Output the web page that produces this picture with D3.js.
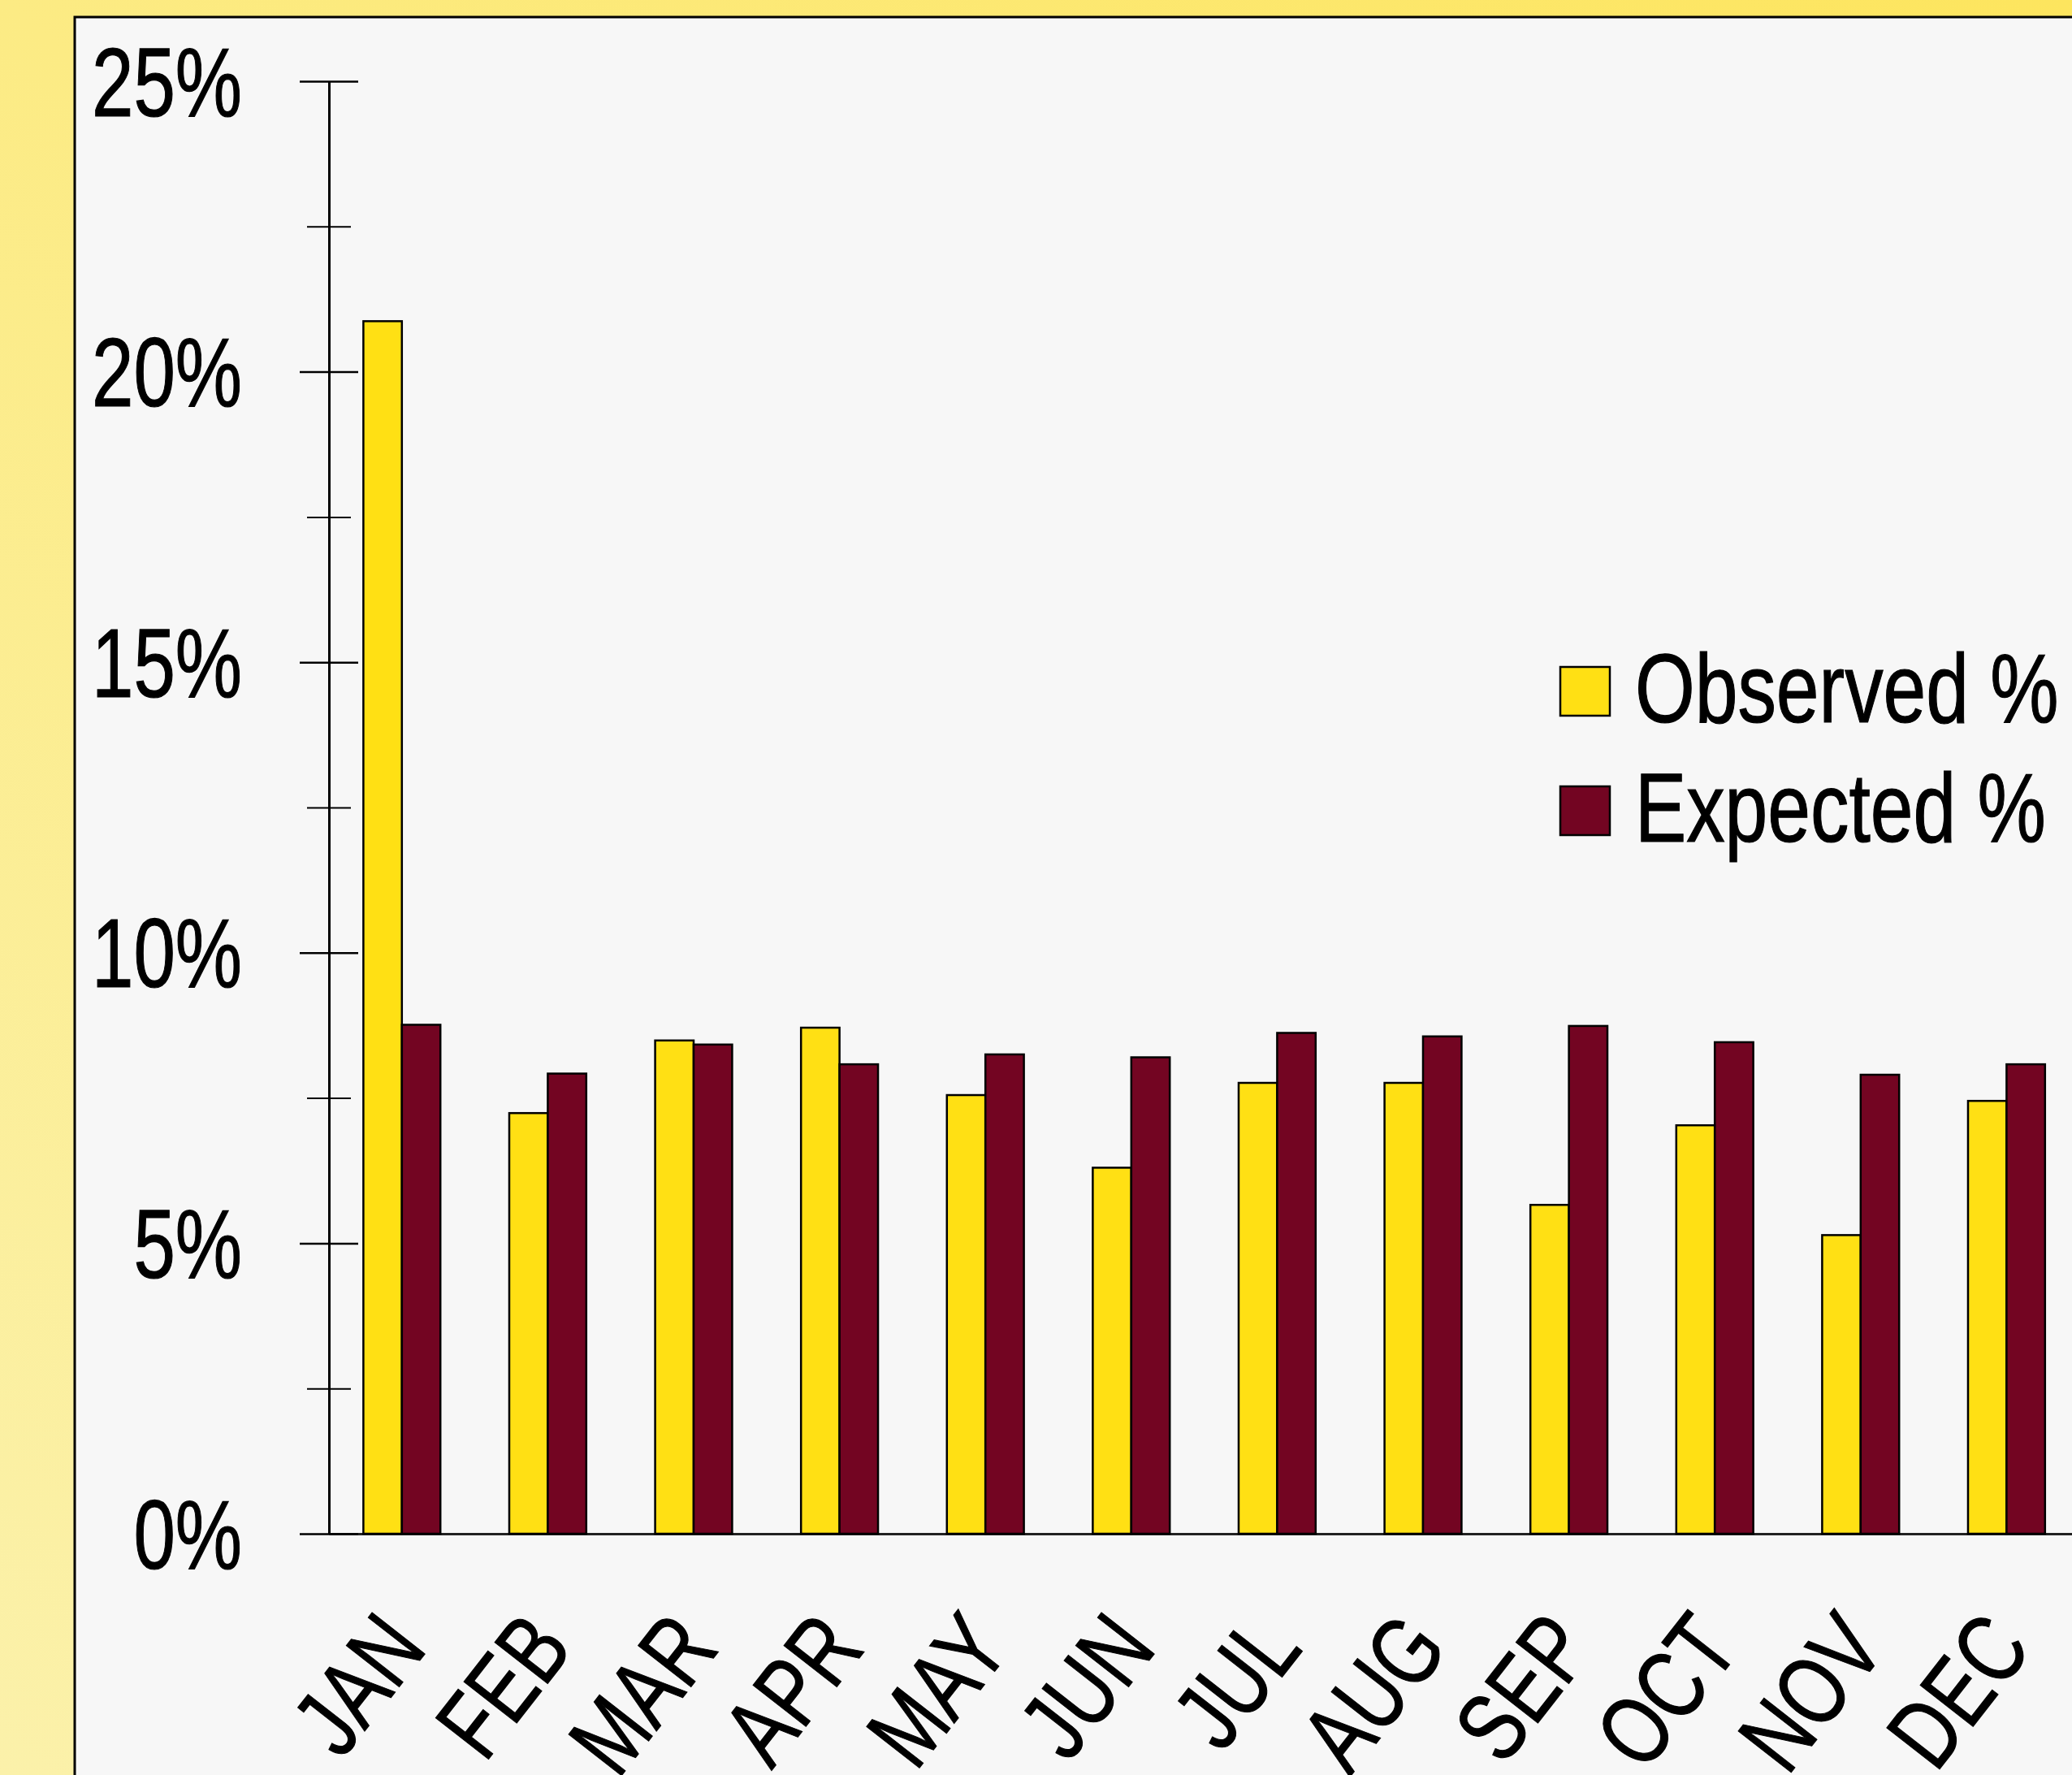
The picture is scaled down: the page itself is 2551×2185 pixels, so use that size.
<!DOCTYPE html>
<html>
<head>
<meta charset="utf-8">
<script src="https://cdn.jsdelivr.net/npm/d3@7"></script>
<style>
  html, body { margin: 0; padding: 0; overflow: hidden; background: #fbee9c; }
  svg { display: block; }
  text { font-family: "Liberation Sans", Arial, sans-serif; fill: #000; }
</style>
</head>
<body>
<svg id="chart" width="2551" height="2185"></svg>
<script>
// ---- data ----
const months = ["JAN", "FEB", "MAR", "APR", "MAY", "JUN", "JUL", "AUG", "SEP", "OCT", "NOV", "DEC"];
const seriesNames = ["Observed %", "Expected %"];
const observed = [20.87, 7.24, 8.49, 8.71, 7.55, 6.30, 7.76, 7.76, 5.66, 7.03, 5.14, 7.45];
const expected = [8.76, 7.92, 8.42, 8.08, 8.25, 8.20, 8.62, 8.56, 8.74, 8.46, 7.90, 8.08];
const majorTicks = [0, 5, 10, 15, 20, 25];
const minorTicks = [2.5, 7.5, 12.5, 17.5, 22.5];
const colors = ["#ffe014", "#730522"];

const W = 2551, H = 2185;
const svg = d3.select("#chart");

// background gradient
const defs = svg.append("defs");
const grad = defs.append("linearGradient").attr("id", "bg")
  .attr("x1", "0%").attr("y1", "100%").attr("x2", "100%").attr("y2", "0%");
grad.append("stop").attr("offset", "0%").attr("stop-color", "#fbf1aa");
grad.append("stop").attr("offset", "100%").attr("stop-color", "#fde55e");
svg.append("rect").attr("width", W).attr("height", H).attr("fill", "url(#bg)");

// panel
svg.append("rect").attr("x", 92).attr("y", 21).attr("width", W + 20).attr("height", H + 20)
  .attr("fill", "#f7f7f7").attr("stroke", "#000").attr("stroke-width", 3);

// scales
const x0 = d3.scaleBand().domain(months).range([405, 405 + 12 * 179.6])
  .paddingInner(0.472).paddingOuter(0.236);
const x1 = d3.scaleBand().domain(seriesNames).range([0, x0.bandwidth()]);
const y = d3.scaleLinear().domain([0, 25]).range([1888, 100]);
const color = d3.scaleOrdinal().domain(seriesNames).range(colors);

const FS = 120;

// x axis (baseline + labels)
const xAxis = svg.append("g").attr("transform", `translate(0,${y(0)})`)
  .call(d3.axisBottom(x0).tickSize(0).tickSizeOuter(0));
xAxis.select(".domain").attr("stroke", "#222").attr("stroke-width", 3);
xAxis.selectAll(".tick text")
  .attr("font-size", FS)
  .attr("font-family", '"Liberation Sans", Arial, sans-serif')
  .attr("fill", "#000")
  .attr("stroke", "#000").attr("stroke-width", 1.2)
  .attr("text-anchor", "end")
  .attr("x", 0).attr("y", 0).attr("dy", 0)
  .attr("transform", "translate(33,142) rotate(-52) scale(0.77,1)");

// minor ticks
const yMinor = svg.append("g").attr("transform", "translate(405,0)")
  .call(d3.axisLeft(y).tickValues(minorTicks).tickSize(27).tickSizeOuter(0).tickFormat(""));
yMinor.select(".domain").remove();
yMinor.selectAll(".tick line").attr("x1", 27).attr("x2", -27).attr("stroke", "#000").attr("stroke-width", 2);

// major ticks + labels
const yAxis = svg.append("g").attr("transform", "translate(405,0)")
  .call(d3.axisLeft(y).tickValues(majorTicks).tickSize(36).tickSizeOuter(0).tickFormat(d => d + "%"));
yAxis.select(".domain").attr("stroke", "#000").attr("stroke-width", 3);
yAxis.selectAll(".tick line").attr("x1", 36).attr("x2", -36).attr("stroke", "#000").attr("stroke-width", 2.5);
yAxis.selectAll(".tick text")
  .attr("font-size", FS)
  .attr("font-family", '"Liberation Sans", Arial, sans-serif')
  .attr("fill", "#000")
  .attr("stroke", "#000").attr("stroke-width", 1.2)
  .attr("text-anchor", "end")
  .attr("x", 0).attr("dy", "0.35em")
  .attr("transform", "translate(-107,0) scale(0.77,1)");

// bars
const rows = months.map((m, i) => ({ month: m, values: [
  { key: seriesNames[0], value: observed[i] },
  { key: seriesNames[1], value: expected[i] }
]}));
const groups = svg.append("g").selectAll("g").data(rows).join("g")
  .attr("transform", d => `translate(${x0(d.month)},0)`);
groups.selectAll("rect").data(d => d.values).join("rect")
  .attr("x", d => x1(d.key))
  .attr("y", d => y(d.value))
  .attr("width", x1.bandwidth())
  .attr("height", d => y(0) - y(d.value))
  .attr("fill", d => color(d.key))
  .attr("stroke", "#000")
  .attr("stroke-width", 2.5);

// legend
const legend = svg.append("g");
const legY = [821, 968];
seriesNames.forEach((s, i) => {
  legend.append("rect").attr("x", 1921).attr("y", legY[i]).attr("width", 61).attr("height", 60)
    .attr("fill", color(s)).attr("stroke", "#000").attr("stroke-width", 2.5);
  legend.append("text")
    .attr("font-size", FS)
    .attr("stroke", "#000").attr("stroke-width", 1.2)
    .attr("transform", `translate(2013,${legY[i] + 68}) scale(0.79,1)`)
    .text(s);
});
</script>
</body>
</html>
